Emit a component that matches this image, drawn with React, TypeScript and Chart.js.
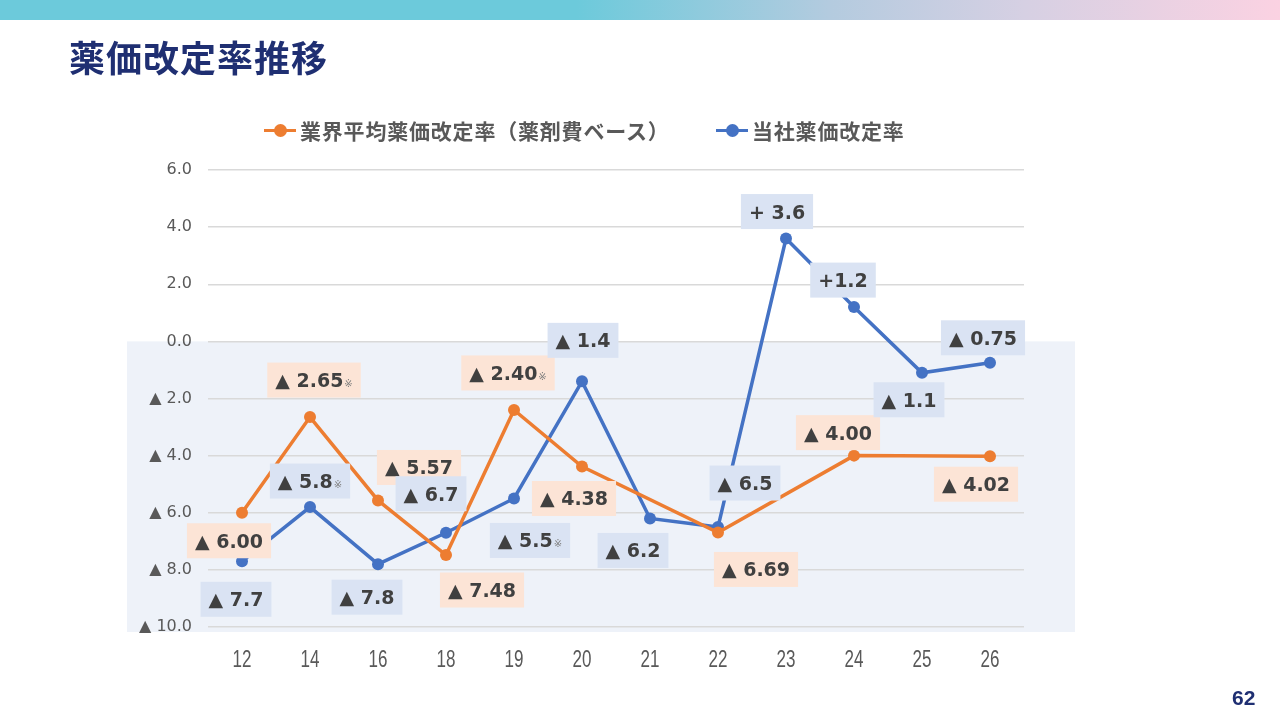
import { useEffect, useRef } from "react";
import { Chart, registerables, type Plugin } from "chart.js";

Chart.register(...registerables);

const years = ["12", "14", "16", "18", "19", "20", "21", "22", "23", "24", "25", "26"];

// 業界平均（薬剤費ベース）: 21, 23, 25 は改定なし
const industryRates = [-6.0, -2.65, -5.57, -7.48, -2.4, -4.38, null, -6.69, null, -4.0, null, -4.02];
const companyRates = [-7.7, -5.8, -7.8, -6.7, -5.5, -1.4, -6.2, -6.5, 3.6, 1.2, -1.1, -0.75];

const industryLabels = ["▲ 6.00", "▲ 2.65", "▲ 5.57", "▲ 7.48", "▲ 2.40", "▲ 4.38", null, "▲ 6.69", null, "▲ 4.00", null, "▲ 4.02"];
const industryNotes = [false, true, false, false, true, false, false, false, false, false, false, false];
const companyLabels = ["▲ 7.7", "▲ 5.8", "▲ 7.8", "▲ 6.7", "▲ 5.5", "▲ 1.4", "▲ 6.2", "▲ 6.5", "+ 3.6", "+1.2", "▲ 1.1", "▲ 0.75"];
const companyNotes = [false, true, false, false, true, false, false, false, false, false, false, false];

// label box offsets from each point (px), like manual label placement in the slide
const industryLabelOffsets = [[-13, 28], [4, -37], [41, -33], [36, 35], [-6, -37], [-8, 32], [0, 0], [38, 37], [0, 0], [-16, -23], [0, 0], [-14, 28]];
const companyLabelOffsets = [[-6, 38], [0, -26], [-11, 33], [-15, -39], [16, 42], [1, -41], [-17, 32], [27, -44], [-9, -27], [-11, -27], [-13, 27], [-7, -25]];

const ORANGE = "#ed7d31";
const BLUE = "#4472c4";
const TEXT_GRAY = "#595959";
const NAVY = "#1f2f72";

const labelSets = [
  { text: industryLabels, notes: industryNotes, offsets: industryLabelOffsets, fill: "#fce4d6" },
  { text: companyLabels, notes: companyNotes, offsets: companyLabelOffsets, fill: "#dae3f3" },
];

const bandPlugin: Plugin<"line"> = {
  id: "negativeBand",
  beforeDraw(chart) {
    const { ctx, chartArea, scales } = chart;
    const top = scales.y.getPixelForValue(0);
    ctx.save();
    ctx.fillStyle = "#eef2f9";
    ctx.fillRect(chartArea.left - 81, top, chartArea.right - chartArea.left + 132, chartArea.bottom + 5 - top);
    ctx.restore();
  },
};

// narrow category labels (the slide uses a condensed face)
const narrowXLabels: Plugin<"line"> = {
  id: "narrowXLabels",
  afterDraw(chart) {
    const { ctx, chartArea, scales } = chart;
    ctx.save();
    ctx.fillStyle = TEXT_GRAY;
    ctx.font = "23px 'Liberation Sans'";
    ctx.textAlign = "center";
    ctx.textBaseline = "middle";
    years.forEach((label, i) => {
      const x = scales.x.getPixelForTick(i);
      ctx.save();
      ctx.translate(x, chartArea.bottom + 34);
      ctx.scale(0.74, 1);
      ctx.fillText(label, 0, 0);
      ctx.restore();
    });
    ctx.restore();
  },
};

const boxLabelPlugin: Plugin<"line"> = {
  id: "boxLabels",
  afterDatasetsDraw(chart) {
    const ctx = chart.ctx;
    ctx.save();
    labelSets.forEach((set, di) => {
      const meta = chart.getDatasetMeta(di);
      meta.data.forEach((pt, i) => {
        const text = set.text[i];
        if (!text) return;
        const [dx, dy] = set.offsets[i];
        const cx = pt.x + dx;
        const cy = pt.y + dy;
        ctx.font = "bold 19px 'DejaVu Sans'";
        const mainW = ctx.measureText(text).width;
        ctx.font = "10px 'DejaVu Sans'";
        const noteW = set.notes[i] ? ctx.measureText("※").width + 1 : 0;
        const w = mainW + noteW + 16;
        const h = 35;
        ctx.fillStyle = set.fill;
        ctx.fillRect(cx - w / 2, cy - h / 2, w, h);
        ctx.fillStyle = "#404040";
        ctx.textBaseline = "alphabetic";
        ctx.textAlign = "left";
        ctx.font = "bold 19px 'DejaVu Sans'";
        const x0 = cx - w / 2 + 8;
        ctx.fillText(text, x0, cy + 7);
        if (set.notes[i]) {
          ctx.font = "10px 'DejaVu Sans'";
          ctx.fillStyle = "#7f7f7f";
          ctx.fillText("※", x0 + mainW + 1, cy + 7);
        }
      });
    });
    ctx.restore();
  },
};

function RateChart() {
  const canvasRef = useRef<HTMLCanvasElement>(null);

  useEffect(() => {
    if (!canvasRef.current) return;
    const chart = new Chart(canvasRef.current, {
      type: "line",
      data: {
        labels: years,
        datasets: [
          {
            label: "業界平均薬価改定率（薬剤費ベース）",
            data: industryRates,
            borderColor: ORANGE,
            backgroundColor: ORANGE,
            borderWidth: 3.5,
            pointRadius: 6,
            pointBackgroundColor: ORANGE,
            pointBorderWidth: 0,
            spanGaps: true,
            tension: 0,
          },
          {
            label: "当社薬価改定率",
            data: companyRates,
            borderColor: BLUE,
            backgroundColor: BLUE,
            borderWidth: 3.5,
            pointRadius: 6,
            pointBackgroundColor: BLUE,
            pointBorderWidth: 0,
            tension: 0,
          },
        ],
      },
      options: {
        responsive: true,
        maintainAspectRatio: false,
        animation: false,
        layout: { padding: { left: 100, right: 256, top: 170, bottom: 33 } },
        plugins: {
          legend: { display: false },
          tooltip: { enabled: false },
        },
        scales: {
          x: {
            offset: true,
            grid: { display: false, drawTicks: false },
            border: { display: false },
            ticks: { display: false },
            afterFit: (scale) => {
              scale.height = 60;
            },
          },
          y: {
            min: -10,
            max: 6,
            ticks: {
              stepSize: 2,
              color: TEXT_GRAY,
              padding: 16,
              font: { family: "'DejaVu Sans'", size: 16 },
              callback: (v) => {
                const n = Number(v);
                return n < 0 ? `▲ ${Math.abs(n).toFixed(1)}` : n.toFixed(1);
              },
            },
            grid: { color: "#d9d9d9", lineWidth: 1.5, drawTicks: false },
            border: { display: false },
            afterFit: (scale) => {
              scale.width = 108;
            },
          },
        },
      },
      plugins: [bandPlugin, boxLabelPlugin, narrowXLabels],
    });
    return () => chart.destroy();
  }, []);

  return <canvas ref={canvasRef} />;
}

function LegendItem({ color, text, left }: { color: string; text: string; left: number }) {
  return (
    <div style={{ position: "absolute", left, top: 116, height: 28, display: "flex", alignItems: "center" }}>
      <div style={{ position: "relative", width: 32, height: 3, background: color, marginRight: 4 }}>
        <div
          style={{
            position: "absolute",
            left: 10,
            top: -5,
            width: 13,
            height: 13,
            borderRadius: "50%",
            background: color,
          }}
        />
      </div>
      <span
        style={{
          fontFamily: "'Noto Sans CJK JP'",
          fontWeight: 700,
          fontSize: 21,
          letterSpacing: 0.8,
          color: TEXT_GRAY,
        }}
      >
        {text}
      </span>
    </div>
  );
}

export default function App() {
  return (
    <div
      style={{
        position: "absolute",
        left: 0,
        top: 0,
        width: 1280,
        height: 720,
        overflow: "hidden",
        background: "#ffffff",
        fontFamily: "'Noto Sans CJK JP', sans-serif",
      }}
    >
      <div
        style={{
          position: "absolute",
          left: 0,
          top: 0,
          width: 1280,
          height: 20,
          background: "linear-gradient(90deg, #6ccadb 0%, #6ccadb 45%, #b4cbdf 65%, #d6d0e3 80%, #fbd2e2 100%)",
        }}
      />
      <div style={{ position: "absolute", left: 0, top: 0, width: 1280, height: 720 }}>
        <RateChart />
      </div>
      <div
        style={{
          position: "absolute",
          left: 69,
          top: 31,
          fontSize: 36,
          fontWeight: 700,
          color: NAVY,
          lineHeight: "50px",
          letterSpacing: 1,
        }}
      >
        薬価改定率推移
      </div>
      <LegendItem color={ORANGE} text="業界平均薬価改定率（薬剤費ベース）" left={264} />
      <LegendItem color={BLUE} text="当社薬価改定率" left={716} />
      <div
        style={{
          position: "absolute",
          left: 1232,
          top: 686,
          fontFamily: "'Liberation Sans Narrow', 'Liberation Sans'",
          fontWeight: 700,
          fontSize: 21,
          color: NAVY,
        }}
      >
        62
      </div>
    </div>
  );
}
